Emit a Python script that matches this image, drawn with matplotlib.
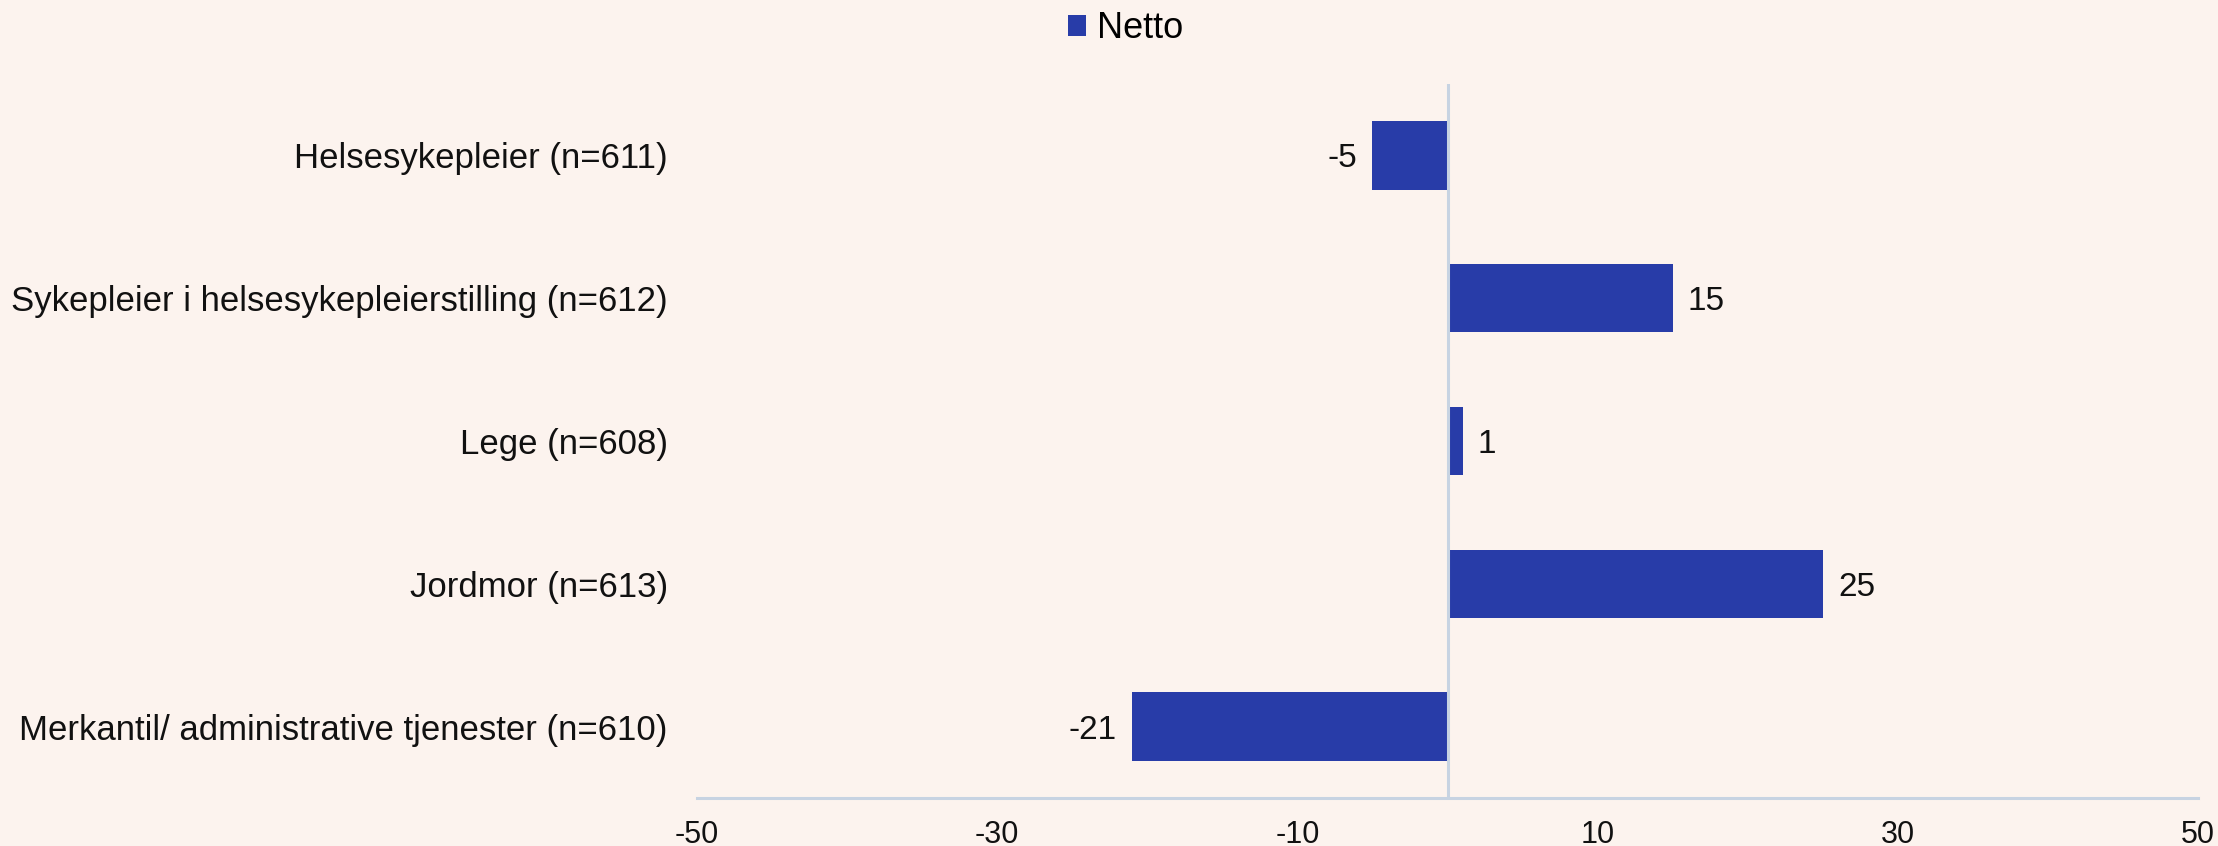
import matplotlib.pyplot as plt
import numpy as np

plt.rcParams['font.family'] = ['Liberation Sans', 'DejaVu Sans']

categories = ['Helsesykepleier (n=611)',
              'Sykepleier i helsesykepleierstilling (n=612)',
              'Lege (n=608)',
              'Jordmor (n=613)',
              'Merkantil/ administrative tjenester (n=610)']
netto = [-5, 15, 1, 25, -21]
xticks = [-50, -30, -10, 10, 30, 50]

bg = '#FCF3EE'
bar_color = '#283CA8'
line_color = '#C7D3E2'
text_color = '#111111'

fig = plt.figure(figsize=(22.18, 8.46), dpi=100, facecolor=bg)
ax = fig.add_axes([697 / 2218, 48 / 846, (2198 - 697) / 2218, (798 - 84) / 846])
ax.set_facecolor(bg)

y = np.arange(len(categories))
ax.barh(y, netto, height=0.48, color=bar_color, label='Netto', zorder=3)
ax.set_ylim(len(categories) - 0.5, -0.5)
ax.set_xlim(-50, 50)

ax.axvline(0, color=line_color, lw=2.2, zorder=4)
for s in ['top', 'right', 'left']:
    ax.spines[s].set_visible(False)
ax.spines['bottom'].set_color(line_color)
ax.spines['bottom'].set_linewidth(2.2)

ax.set_yticks(y)
ax.set_yticklabels(categories, fontsize=25, color=text_color)
ax.tick_params(axis='y', length=0, pad=21)
ax.set_xticks(xticks)
ax.set_xticklabels([str(t) for t in xticks], fontsize=22, color=text_color)
ax.tick_params(axis='x', length=0, pad=16)

for yi, v in zip(y, netto):
    if v < 0:
        ax.annotate(str(v), (v, yi), xytext=(-11, 0), textcoords='offset points',
                    ha='right', va='center_baseline', fontsize=24, color=text_color)
    else:
        ax.annotate(str(v), (v, yi), xytext=(11, 0), textcoords='offset points',
                    ha='left', va='center_baseline', fontsize=24, color=text_color)

fig.legend(loc='upper center', bbox_to_anchor=(1126 / 2218, 1.025), frameon=False,
           fontsize=26, handlelength=0.5, handleheight=0.5, handletextpad=0.3)

fig.savefig('out.png', dpi=100, facecolor=bg)
